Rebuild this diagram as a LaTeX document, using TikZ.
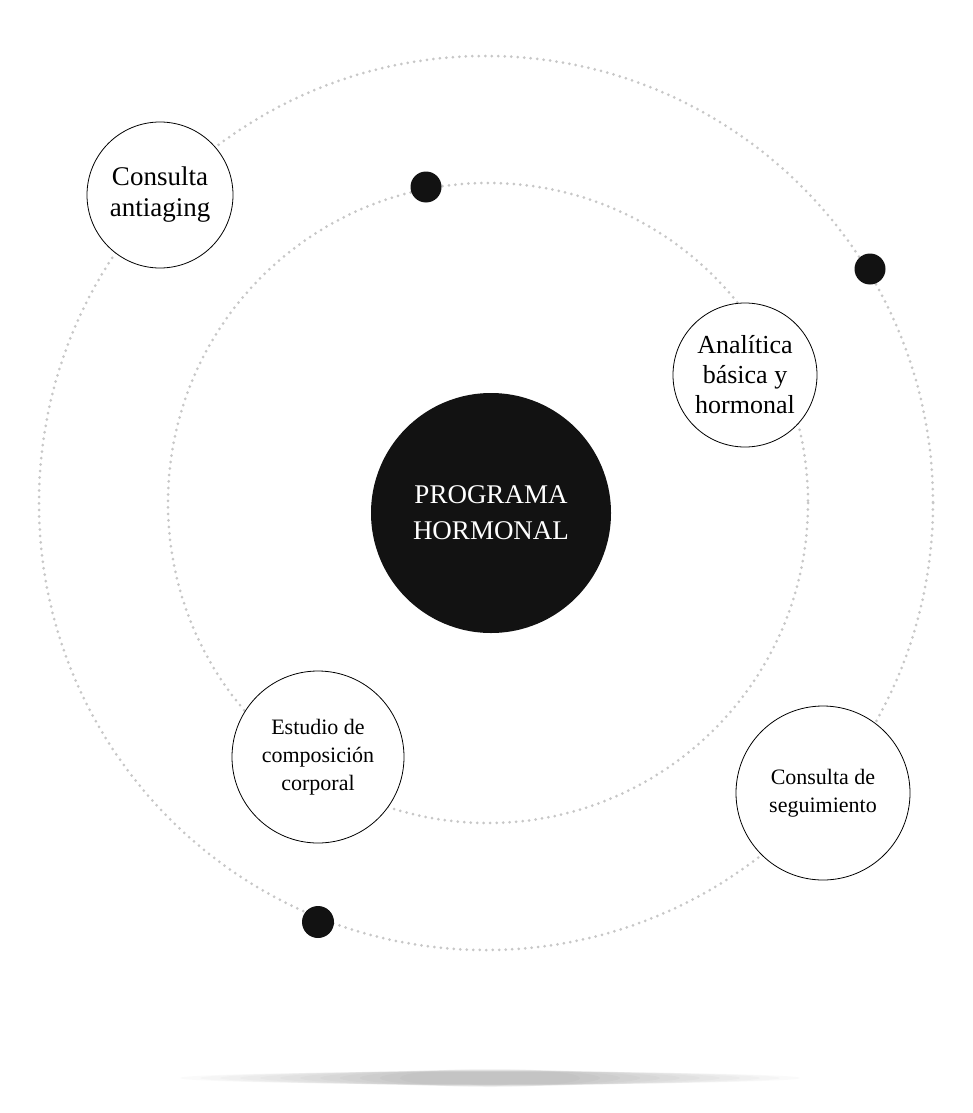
\documentclass[tikz,border=0pt]{standalone}
\usepackage{fontspec}
\setmainfont{Liberation Serif}
\begin{document}
\begin{tikzpicture}[x=1pt,y=-1pt,
  orbit/.style={draw=black!22,line width=3pt,line cap=round,dash pattern=on 0pt off 6.5pt},
  stage/.style={circle,draw=black,line width=0.8pt,fill=white,align=center,inner sep=0pt},
  bead/.style={circle,fill=black!93,inner sep=0pt}]
\useasboundingbox (0,0) rectangle (972,1113);
\fill[white] (0,0) rectangle (972,1113);
% shadow
\foreach \i in {1,...,12}{
  \fill[black,opacity=0.018] (490,1078) ellipse ({330-\i*20} and {6+\i*0.25});}
\coordinate (c) at (488,503);
\draw[orbit] (c) circle (320);
\draw[orbit] (486,503) circle (447);
\node[circle,fill=black!93,minimum size=240pt,text=white,align=center,font=\fontsize{27}{36}\selectfont] (main) at (491,513) {PROGRAMA\\HORMONAL};
\node[stage,minimum size=146pt,font=\fontsize{27}{31}\selectfont] (a) at (160,195) {Consulta\\antiaging};
\node[stage,minimum size=144pt,font=\fontsize{26}{30}\selectfont] (b) at (745,375) {Analítica\\básica y\\hormonal};
\node[stage,minimum size=172pt,font=\fontsize{22}{28}\selectfont] (d) at (318,757) {Estudio de\\composición\\corporal};
\node[stage,minimum size=174pt,font=\fontsize{22}{28}\selectfont] (e) at (823,793) {Consulta de\\seguimiento};
\node[bead,minimum size=31pt] (p1) at (426,187) {};
\node[bead,minimum size=31pt] (p2) at (870,269) {};
\node[bead,minimum size=32pt] (p3) at (318,922) {};
\end{tikzpicture}
\end{document}
